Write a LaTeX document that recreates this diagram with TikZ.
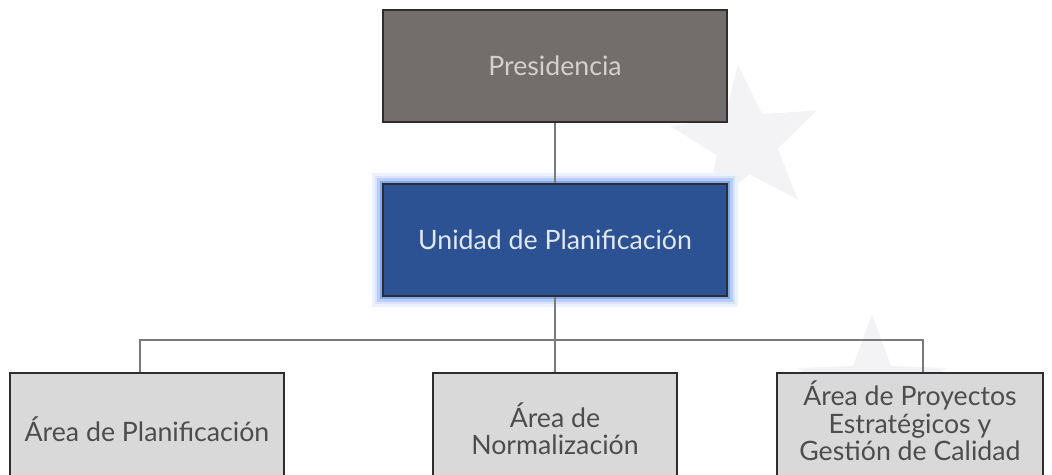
\documentclass[tikz,border=0pt]{standalone}
\usepackage{fontspec}
\setmainfont{Lato}
\usetikzlibrary{shapes.geometric}

\definecolor{presfill}{HTML}{736E6C}
\definecolor{prestext}{HTML}{D4D0CF}
\definecolor{unifill}{HTML}{2C5293}
\definecolor{unitext}{HTML}{E2E8F2}
\definecolor{glowblue}{HTML}{7FA6F0}
\definecolor{areafill}{HTML}{D9D9D9}
\definecolor{areatext}{HTML}{4D4D4D}
\definecolor{boxline}{HTML}{2E2E2E}
\definecolor{linkgray}{HTML}{7A7A7A}
\definecolor{markgray}{HTML}{F3F3F5}

\begin{document}
\begin{tikzpicture}[x=0.02cm, y=-0.02cm,
    box/.style = {draw=boxline, line width=1.2pt, inner sep=0pt, minimum height=2.24cm,
                  align=center, font=\fontsize{15.2}{15.6}\selectfont},
    link/.style = {draw=linkgray, line width=0.7pt},
    starmark/.style = {star, star points=5, star point ratio=2.4, fill=markgray, draw=none}]

    \useasboundingbox (0,0) rectangle (1052,475);
    \clip (0,0) rectangle (1052,475);

    % faint stars behind
    \node[starmark, minimum size=3.1cm, rotate=6] (star1) at (746,142) {};
    \node[starmark, minimum size=3.1cm] (star2) at (872,392) {};

    \node[box, fill=presfill, text=prestext, minimum width=6.88cm] (pres) at (555,66) {Presidencia};

    \node[box, fill=unifill, text=unitext, minimum width=6.88cm,
          preaction={draw=glowblue!15, line width=0.44cm},
          preaction={draw=glowblue!30, line width=0.34cm},
          preaction={draw=glowblue!55, line width=0.24cm},
          preaction={draw=glowblue, line width=0.12cm}] (unidad) at (555,240) {Unidad de Planificación};

    \node[box, fill=areafill, text=areatext, minimum width=5.48cm] (aplan) at (147,429) {Área de Planificación};
    \node[box, fill=areafill, text=areatext, minimum width=4.88cm] (anorm) at (555,429) {Área de\\Normalización};
    \node[box, fill=areafill, minimum width=5.32cm] (aproy) at (910,429) {};
    \node[box, draw=none, text=areatext] (aproytxt) at (910,421) {Área de Proyectos\\Estratégicos y\\Gestión de Calidad};

    \coordinate (bus) at (555,340);

    \draw[link] (pres.south) -- (unidad.north);
    \draw[link] (unidad.south) -- (bus);
    \draw[link] (bus) -| ([xshift=-0.14cm]aplan.north);
    \draw[link] (bus) -- (anorm.north);
    \draw[link] (bus) -| ([xshift=0.26cm]aproy.north);

\end{tikzpicture}
\end{document}
